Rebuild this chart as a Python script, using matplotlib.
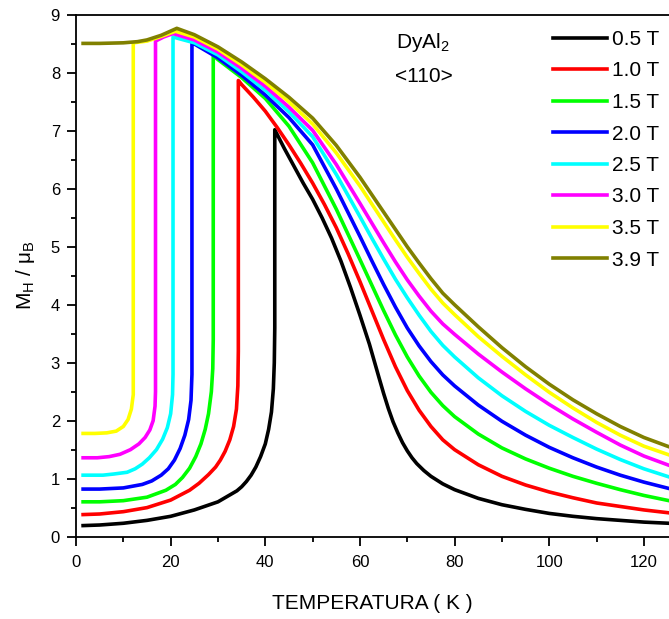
import matplotlib
matplotlib.use('Agg')
import matplotlib.pyplot as plt
from matplotlib.ticker import MultipleLocator

plt.rcParams['font.family'] = ['Liberation Sans', 'DejaVu Sans']
plt.rcParams['mathtext.fontset'] = 'custom'
plt.rcParams['mathtext.rm'] = 'Liberation Sans'
plt.rcParams['mathtext.it'] = 'Liberation Sans:italic'

# data: temperature (K) and M_H / mu_B for each field
# (low-T branch, jump at the transition, then the high-T branch)
t_05 = [1.5, 5, 10, 15, 20, 25, 30, 34, 35, 36, 37, 38, 39, 40, 40.7, 41.3, 41.7, 41.9, 42, 42,
        44, 46, 48, 50, 52, 54, 56, 58, 60, 62, 64, 65, 66, 67, 68, 69, 70, 71, 72, 73.5, 75, 77.5,
        80, 85, 90, 95, 100, 105, 110, 115, 120, 125.3]
m_05 = [0.19, 0.2, 0.23, 0.28, 0.35, 0.46, 0.6, 0.79, 0.86, 0.95, 1.06, 1.2, 1.38, 1.6, 1.85, 2.15,
        2.55, 3.0, 3.6, 7.02, 6.7, 6.4, 6.1, 5.82, 5.5, 5.15, 4.75, 4.3, 3.82, 3.32, 2.75, 2.47, 2.21,
        1.98, 1.79, 1.62, 1.48, 1.36, 1.26, 1.14, 1.04, 0.91, 0.81, 0.66, 0.55, 0.47, 0.4, 0.35, 0.31,
        0.28, 0.25, 0.23]

t_10 = [1.5, 5, 10, 15, 20, 24, 26, 28, 29.5, 30.5, 31.5, 32.5, 33.3, 33.9, 34.2, 34.3, 34.3, 35,
        37.5, 40, 42.5, 45, 47.5, 50, 52.5, 55, 57.5, 60, 62.5, 65, 67.5, 70, 72.5, 75, 77.5, 80, 85,
        90, 95, 100, 105, 110, 115, 120, 125.3]
m_10 = [0.38, 0.39, 0.43, 0.5, 0.63, 0.8, 0.92, 1.07, 1.2, 1.32, 1.47, 1.67, 1.9, 2.2, 2.6, 3.2,
        7.87, 7.8, 7.58, 7.34, 7.06, 6.76, 6.44, 6.1, 5.73, 5.33, 4.88, 4.4, 3.9, 3.4, 2.93, 2.52, 2.18,
        1.9, 1.67, 1.5, 1.24, 1.04, 0.89, 0.77, 0.67, 0.58, 0.52, 0.46, 0.41]

t_15 = [1.5, 5, 10, 15, 19, 21, 22.5, 24, 25.3, 26.4, 27.3, 28, 28.6, 28.9, 29, 29, 30, 35, 40, 45,
        50, 55, 60, 62.5, 65, 67.5, 70, 72.5, 75, 77.5, 80, 85, 90, 95, 100, 105, 110, 115, 120, 125.3]
m_15 = [0.6, 0.6, 0.62, 0.68, 0.8, 0.9, 1.02, 1.18, 1.38, 1.6, 1.85, 2.12, 2.5, 2.9, 3.4, 8.3, 8.23,
        7.92, 7.56, 7.08, 6.45, 5.65, 4.78, 4.34, 3.9, 3.48, 3.1, 2.77, 2.49, 2.26, 2.07, 1.77, 1.53,
        1.34, 1.18, 1.04, 0.92, 0.81, 0.71, 0.62]

t_20 = [1.5, 5, 10, 14, 16, 18, 19.5, 20.8, 22, 23, 23.8, 24.3, 24.5, 24.5, 25, 30, 35, 40, 45, 50,
        55, 60, 62.5, 65, 67.5, 70, 72.5, 75, 77.5, 80, 85, 90, 95, 100, 105, 110, 115, 120, 125.3]
m_20 = [0.82, 0.82, 0.84, 0.9, 0.96, 1.06, 1.17, 1.32, 1.52, 1.75, 2.02, 2.35, 2.8, 8.53, 8.5, 8.26,
        7.96, 7.62, 7.23, 6.76, 6.0, 5.18, 4.76, 4.35, 3.96, 3.6, 3.29, 3.02, 2.79, 2.6, 2.27, 1.99,
        1.75, 1.54, 1.36, 1.2, 1.06, 0.94, 0.83]

t_25 = [1.5, 5.7, 8, 10.8, 12.5, 14, 15.5, 17, 18.3, 19.3, 20, 20.4, 20.5, 20.5, 25, 30, 35, 40, 45,
        50, 55, 60, 62.5, 65, 67.5, 70, 72.5, 75, 77.5, 80, 85, 90, 95, 100, 105, 110, 115, 120, 125.3]
m_25 = [1.06, 1.06, 1.08, 1.11, 1.17, 1.25, 1.36, 1.5, 1.68, 1.88, 2.12, 2.45, 2.8, 8.62, 8.52, 8.31,
        8.02, 7.7, 7.33, 6.9, 6.25, 5.52, 5.15, 4.79, 4.44, 4.12, 3.82, 3.54, 3.3, 3.1, 2.74, 2.43,
        2.16, 1.92, 1.71, 1.51, 1.33, 1.17, 1.03]

t_30 = [1.5, 4.5, 7, 9.3, 11.5, 13.3, 14.6, 15.6, 16.3, 16.7, 16.8, 16.8, 18.5, 20.5, 25, 30, 35, 40,
        45, 50, 55, 60, 62.5, 65, 67.5, 70, 72.5, 75, 77.5, 80, 85, 90, 95, 100, 105, 110, 115, 120,
        125.3]
m_30 = [1.36, 1.36, 1.38, 1.42, 1.5, 1.6, 1.71, 1.84, 2.0, 2.25, 2.5, 8.55, 8.62, 8.68, 8.57, 8.36,
        8.08, 7.77, 7.41, 7.01, 6.42, 5.75, 5.41, 5.07, 4.74, 4.43, 4.15, 3.89, 3.67, 3.49, 3.15, 2.84,
        2.55, 2.28, 2.03, 1.8, 1.58, 1.39, 1.23]

t_35 = [1.5, 4, 6.5, 8.5, 10, 11, 11.7, 12.1, 12.1, 15, 18, 21, 25, 30, 35, 40, 45, 50, 55, 60, 62.5,
        65, 67.5, 70, 72.5, 75, 77.5, 80, 85, 90, 95, 100, 105, 110, 115, 120, 125.3]
m_35 = [1.78, 1.78, 1.79, 1.82, 1.9, 2.02, 2.2, 2.45, 8.52, 8.55, 8.63, 8.72, 8.62, 8.41, 8.14, 7.84,
        7.5, 7.12, 6.62, 6.05, 5.74, 5.43, 5.12, 4.82, 4.54, 4.27, 4.03, 3.83, 3.45, 3.11, 2.79, 2.49,
        2.22, 1.97, 1.75, 1.56, 1.41]

t_39 = [1.5, 5, 10, 13, 15, 18, 21.3, 25, 30, 35, 40, 45, 50, 55, 60, 62.5, 65, 67.5, 70, 72.5, 75,
        77.5, 80, 85, 90, 95, 100, 105, 110, 115, 120, 125.3]
m_39 = [8.51, 8.51, 8.52, 8.54, 8.57, 8.65, 8.77, 8.66, 8.45, 8.19, 7.9, 7.58, 7.22, 6.75, 6.2, 5.9,
        5.6, 5.3, 5.0, 4.72, 4.45, 4.2, 4.0, 3.62, 3.26, 2.93, 2.63, 2.36, 2.12, 1.9, 1.71, 1.55]

labels = ['0.5 T', '1.0 T', '1.5 T', '2.0 T', '2.5 T', '3.0 T', '3.5 T', '3.9 T']
colors = ['#000000', '#ff0000', '#00ff00', '#0000ff', '#00ffff', '#ff00ff', '#ffff00', '#808000']

temps = [t_05, t_10, t_15, t_20, t_25, t_30, t_35, t_39]
mags = [m_05, m_10, m_15, m_20, m_25, m_30, m_35, m_39]

fig = plt.figure(figsize=(6.69, 6.19), dpi=100)
ax = fig.add_axes([76 / 669, 1 - 536.6 / 619, 1 - 76 / 669, (536.6 - 15) / 619])

for t, m, c, lab in zip(temps, mags, colors, labels):
    ax.plot(t, m, color=c, lw=2.6, label=lab, solid_joinstyle='round')

ax.set_xlim(0, 125.3)
ax.set_ylim(0, 9)
ax.xaxis.set_major_locator(MultipleLocator(20))
ax.xaxis.set_minor_locator(MultipleLocator(10))
ax.yaxis.set_major_locator(MultipleLocator(1))
ax.yaxis.set_minor_locator(MultipleLocator(0.5))
ax.tick_params(which='both', direction='out', width=1.3, labelsize=12, top=False, right=False)
ax.tick_params(which='major', length=6.5)
ax.tick_params(axis='x', which='major', pad=7)
ax.tick_params(axis='y', which='major', pad=5)
ax.tick_params(which='minor', length=3.5)
for s in ['left', 'bottom', 'top']:
    ax.spines[s].set_linewidth(1.3)
ax.spines['right'].set_visible(False)

ax.set_xlabel('TEMPERATURA ( K )', fontsize=15, labelpad=17)
ax.set_ylabel(r'M$_{\mathregular{H}}$ / $\mathregular{\mu}_{\mathregular{B}}$', fontsize=15, labelpad=10)

fig.text(423 / 669, 1 - 42 / 619, r'DyAl$_{2}$', fontsize=15, ha='center', va='center')
fig.text(424 / 669, 1 - 77 / 619, '<110>', fontsize=15, ha='center', va='center')

leg = ax.legend(loc='upper left', bbox_to_anchor=(553 / 669, 1 - 30 / 619), bbox_transform=fig.transFigure,
                frameon=False, fontsize=15, handlelength=2.6, handletextpad=0.25, labelspacing=0.6,
                borderpad=0, borderaxespad=0)

fig.savefig('out.png', dpi=100)
